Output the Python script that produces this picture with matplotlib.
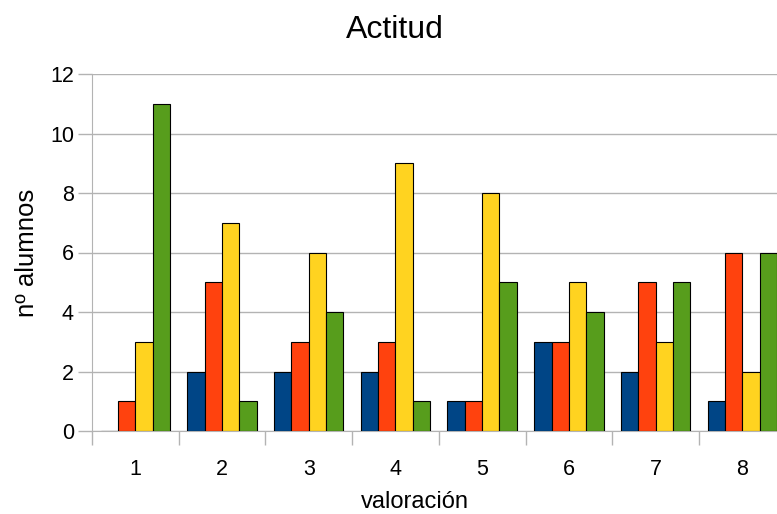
import numpy as np
import matplotlib
matplotlib.use("Agg")
import matplotlib.pyplot as plt
from matplotlib.ticker import MultipleLocator, FixedLocator

categories = [1, 2, 3, 4, 5, 6, 7, 8]
serie_1 = [0, 2, 2, 2, 1, 3, 2, 1]
serie_2 = [1, 5, 3, 3, 1, 3, 5, 6]
serie_3 = [3, 7, 6, 9, 8, 5, 3, 2]
serie_4 = [11, 1, 4, 1, 5, 4, 5, 6]
colors = ["#004586", "#ff420e", "#ffd320", "#579d1c"]

plt.rcParams["font.family"] = ["Liberation Sans", "DejaVu Sans"]

fig = plt.figure(figsize=(7.77, 5.14), dpi=100)
# the plot area runs past the right edge of the picture, as in the original
ax = fig.add_axes([92 / 777, 83 / 514, 693.6 / 777, 357 / 514])

x = np.array(categories, dtype=float)
w = 0.2
for i, (vals, c) in enumerate(zip([serie_1, serie_2, serie_3, serie_4], colors)):
    ax.bar(x + (i - 1.5) * w, vals, width=w, color=c, edgecolor="black",
           linewidth=0.8, zorder=3)

ax.set_xlim(0.5, 8.5)
ax.set_ylim(0, 12)
ax.yaxis.set_major_locator(MultipleLocator(2))
ax.set_xticks(categories)
ax.xaxis.set_minor_locator(FixedLocator(np.arange(0.5, 9.0, 1.0)))
ax.tick_params(axis="x", which="major", length=0, labelsize=15.5, pad=20)
ax.tick_params(axis="x", which="minor", length=10, color="#b3b3b3", width=1)
ax.tick_params(axis="y", length=10, color="#b3b3b3", width=1, labelsize=15.5, pad=3)
ax.grid(axis="y", color="#b3b3b3", linewidth=1, zorder=0)
for s in ["top", "right"]:
    ax.spines[s].set_visible(False)
for s in ["left", "bottom"]:
    ax.spines[s].set_color("#b3b3b3")

fig.text(395 / 777, 1 - 30 / 514, "Actitud", fontsize=23, ha="center", va="center")
fig.text(415 / 777, 1 - 502 / 514, "valoración", fontsize=17, ha="center", va="center")
ax.set_ylabel("nº alumnos", fontsize=18.5, labelpad=8)

fig.savefig("out.png", dpi=100)
